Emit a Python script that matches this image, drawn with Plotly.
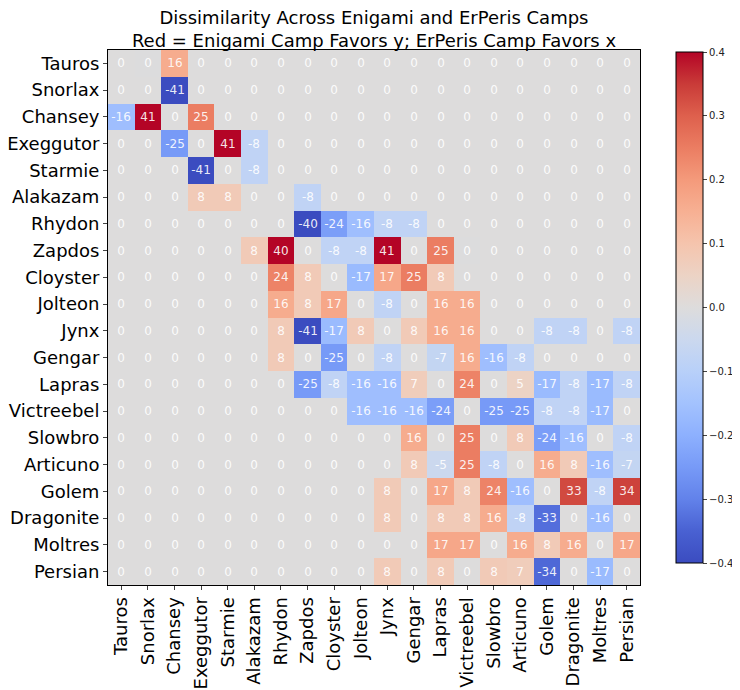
import plotly.graph_objects as go

names = ["Tauros", "Snorlax", "Chansey", "Exeggutor", "Starmie", "Alakazam", "Rhydon",
         "Zapdos", "Cloyster", "Jolteon", "Jynx", "Gengar", "Lapras", "Victreebel",
         "Slowbro", "Articuno", "Golem", "Dragonite", "Moltres", "Persian"]

# values in percent (row = y, column = x)
tauros     = [0, -0.4, 16, 0, 0, 0, 0, 0, 0, 0, 0, 0, 0, 0, 0, 0, 0, 0, 0, 0]
snorlax    = [0, 0, -41, 0, 0, 0, 0, 0, 0, 0, 0, 0, 0, 0, 0, 0, 0, 0, 0, 0]
chansey    = [-16, 41, 0, 25, 0, 0, 0, 0, 0, 0, 0, 0, 0, 0, 0, 0, 0, 0, 0, 0]
exeggutor  = [0, 0, -25, 0, 41, -8, 0, 0, 0, 0, 0, 0, 0, 0, 0, 0, 0, 0, 0, 0]
starmie    = [0, 0, 0, -41, 0, -8, 0, 0, 0, 0, 0, 0, 0, 0, 0, 0, 0, 0, 0, 0]
alakazam   = [0, 0, 0, 8, 8, 0, 0, -8, 0, 0, 0, 0, 0, 0, 0, 0, 0, 0, 0, 0]
rhydon     = [0, 0, 0, 0, 0, 0, 0, -40, -24, -16, -8, -8, 0, 0, 0, 0, 0, 0, 0, 0]
zapdos     = [0, 0, 0, 0, 0, 8, 40, 0, -8, -8, 41, 0, 25, -0.4, 0, 0, 0, 0, 0, 0]
cloyster   = [0, 0, 0, 0, 0, 0, 24, 8, 0, -17, 17, 25, 8, 0, 0, 0, 0, 0, 0, 0]
jolteon    = [0, 0, 0, 0, 0, 0, 16, 8, 17, 0, -8, 0, 16, 16, 0, 0, 0, 0, 0, 0]
jynx       = [0, 0, 0, 0, 0, 0, 8, -41, -17, 8, 0, 8, 16, 16, 0, 0, -8, -8, 0, -8]
gengar     = [0, 0, 0, 0, 0, 0, 8, 0, -25, 0, -8, 0, -7, 16, -16, -8, 0, 0, 0, 0]
lapras     = [0, 0, 0, 0, 0, 0, 0, -25, -8, -16, -16, 7, 0, 24, 0, 5, -17, -8, -17, -8]
victreebel = [0, 0, 0, 0, 0, 0, 0, 0, 0, -16, -16, -16, -24, 0, -25, -25, -8, -8, -17, 0]
slowbro    = [0, 0, 0, 0, 0, 0, 0, 0, 0, 0, 0, 16, 0, 25, 0, 8, -24, -16, 0, -8]
articuno   = [0, 0, 0, 0, 0, 0, 0, 0, 0, 0, 0, 8, -5, 25, -8, 0, 16, 8, -16, -7]
golem      = [0, 0, 0, 0, 0, 0, 0, 0, 0, 0, 8, 0, 17, 8, 24, -16, 0, 33, -8, 34]
dragonite  = [0, 0, 0, 0, 0, 0, 0, 0, 0, 0, 8, 0, 8, 8, 16, -8, -33, 0, -16, 0]
moltres    = [0, 0, 0, 0, 0, 0, 0, 0, 0, 0, 0, 0, 17, 17, 0, 16, 8, 16, 0, 17]
persian    = [0, 0, 0, 0, 0, 0, 0, 0, 0, 0, 8, 0, 8, 0, 8, 7, -34, 0, -17, 0]

rows = [tauros, snorlax, chansey, exeggutor, starmie, alakazam, rhydon, zapdos, cloyster,
        jolteon, jynx, gengar, lapras, victreebel, slowbro, articuno, golem, dragonite,
        moltres, persian]

z = [[v / 100 for v in r] for r in rows]
text = [[str(int(round(v))) for v in r] for r in rows]

coolwarm = [
    [0.0, "#3b4cc0"], [0.0625, "#4961d2"], [0.125, "#6282ea"], [0.1875, "#779af7"],
    [0.25, "#8db0fe"], [0.3125, "#a3c2fe"], [0.375, "#b8d0f9"], [0.4375, "#cbd8ee"],
    [0.5, "#dddcdc"], [0.5625, "#ecd3c5"], [0.625, "#f5c4ad"], [0.6875, "#f7b093"],
    [0.75, "#f49a7b"], [0.8125, "#eb7d62"], [0.875, "#de604d"], [0.9375, "#c93b38"],
    [1.0, "#b40426"],
]

# page body has an 8px margin, so the figure is 732x682 and offset by 8px
W, H = 732, 682
L, R, T, B = 100, 100, 42, 105
PW, PH = W - L - R, H - T - B

fig = go.Figure(go.Heatmap(
    z=z, x=names, y=names, text=text, texttemplate="%{text}",
    textfont=dict(color="rgba(255,255,255,0.9)", size=12, family="DejaVu Sans"),
    colorscale=coolwarm, zmin=-0.4, zmax=0.4, xgap=0, ygap=0,
    colorbar=dict(
        thickness=27, lenmode="pixels", len=511, x=(668 - L) / PW, xanchor="left",
        y=(H - B - 299.5) / PH, yanchor="middle", xpad=0, ypad=0,
        outlinewidth=1, outlinecolor="black",
        tickvals=[-0.4, -0.3, -0.2, -0.1, 0.0, 0.1, 0.2, 0.3, 0.4],
        ticktext=["\u22120.4", "\u22120.3", "\u22120.2", "\u22120.1", "0.0", "0.1", "0.2", "0.3", "0.4"],
        ticks="outside", ticklen=4, tickfont=dict(size=10, family="DejaVu Sans", color="#222"),
    ),
))

fig.update_layout(
    width=W, height=H,
    margin=dict(l=L, r=R, t=T, b=B, autoexpand=False),
    paper_bgcolor="white", plot_bgcolor="white",
    font=dict(family="DejaVu Sans", color="black"),
    title=dict(
        text="Dissimilarity Across Enigami and ErPeris Camps<br>Red = Enigami Camp Favors y; ErPeris Camp Favors x",
        x=(L + PW / 2) / W, xanchor="center", y=1 - 16 / H, yanchor="middle",
        font=dict(size=18, family="DejaVu Sans", color="black"),
    ),
)
fig.update_xaxes(tickangle=-90, tickfont=dict(size=18), ticks="outside", ticklen=4,
                 automargin=False,
                 showline=True, mirror=True, linecolor="black", linewidth=1, showgrid=False)
fig.update_yaxes(autorange="reversed", tickfont=dict(size=18), ticks="outside", ticklen=4,
                 automargin=False,
                 showline=True, mirror=True, linecolor="black", linewidth=1, showgrid=False)

fig.write_html("out.html")
